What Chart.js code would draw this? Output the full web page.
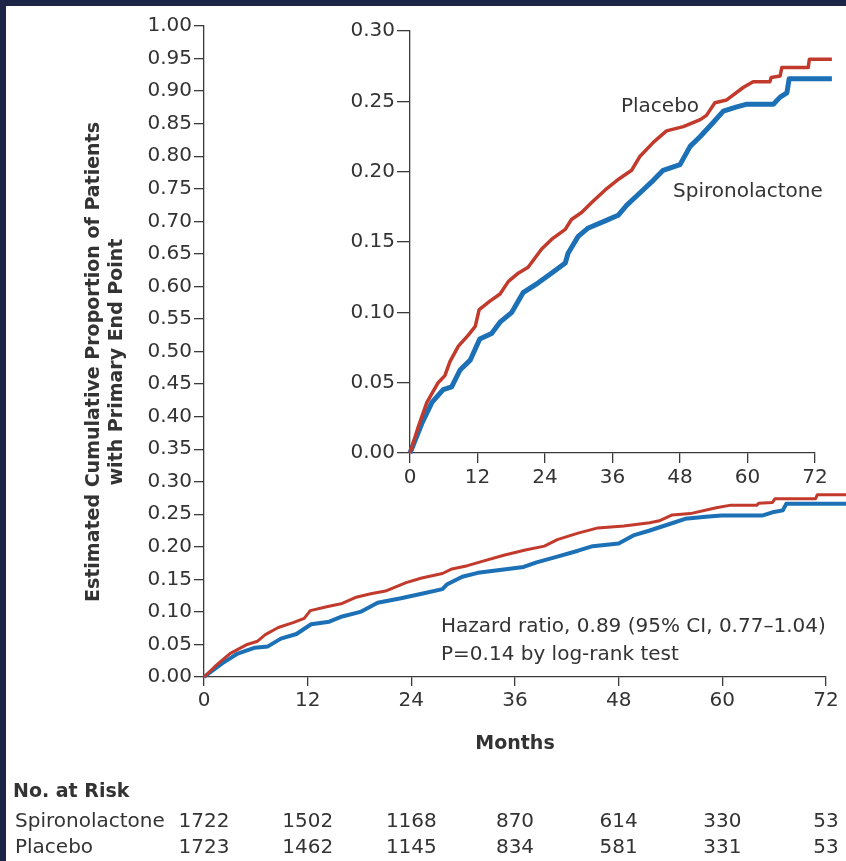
<!DOCTYPE html>
<html>
<head>
<meta charset="utf-8">
<script src="https://cdn.jsdelivr.net/npm/chart.js@4.4.1/dist/chart.umd.min.js"></script>
<style>
  html, body { margin: 0; padding: 0; width: 846px; height: 861px; overflow: hidden; background: #1c2546; }
  #sheet { position: absolute; left: 6px; top: 6px; width: 840px; height: 855px; background: #ffffff; }
  #main { position: absolute; left: 0; top: 0; }
  #inset { position: absolute; left: 330px; top: 0; }
</style>
</head>
<body>
<div id="sheet"></div>
<canvas id="main" width="846" height="861"></canvas>
<canvas id="inset" width="516" height="495"></canvas>
<script>
// Kaplan-Meier cumulative incidence of the primary end point (months from randomization)
const placeboMonths = [0, 1.5, 3.0, 5.0, 6.2, 7.1, 8.6, 10.4, 11.6, 12.3, 14.2, 16.0, 17.5, 19.3, 21.0,
  23.4, 25.2, 27.6, 28.7, 30.5, 32.3, 34.7, 37.2, 39.4, 40.9, 43.3, 45.6, 48.6, 51.6, 52.7,
  54.2, 56.3, 59.3, 61.0, 64.0, 64.2, 65.8, 66.1, 70.8, 71.0, 75.0];
const placeboCum = [0, 0.019, 0.036, 0.050, 0.055, 0.065, 0.076, 0.084, 0.090, 0.102, 0.108, 0.113, 0.122, 0.128, 0.132,
  0.145, 0.152, 0.159, 0.166, 0.171, 0.178, 0.187, 0.195, 0.201, 0.211, 0.221, 0.229, 0.232, 0.237, 0.240,
  0.249, 0.251, 0.260, 0.264, 0.264, 0.267, 0.268, 0.274, 0.274, 0.280, 0.280];

const spiroMonths = [0, 2.1, 3.9, 5.9, 7.4, 8.9, 10.7, 12.4, 14.5, 16.0, 18.1, 20.1, 22.8, 25.2, 27.6,
  28.1, 29.9, 31.7, 34.7, 37.0, 38.5, 40.9, 43.3, 45.0, 48.0, 49.8, 51.6, 53.9, 55.7, 58.1,
  59.9, 64.6, 65.8, 67.0, 67.4, 75.0];
const spiroCum = [0, 0.021, 0.036, 0.045, 0.047, 0.059, 0.066, 0.081, 0.085, 0.093, 0.100, 0.114, 0.121, 0.128, 0.135,
  0.142, 0.154, 0.160, 0.165, 0.169, 0.176, 0.185, 0.194, 0.201, 0.205, 0.218, 0.225, 0.235, 0.243, 0.246,
  0.248, 0.248, 0.253, 0.256, 0.266, 0.266];

// Axis ticks
const monthTicks = [0, 12, 24, 36, 48, 60, 72];
const mainYMax = 1.0;
const insetYMax = 0.30;
const yStep = 0.05;

// Numbers at risk at each month tick
const atRiskSpiro = [1722, 1502, 1168, 870, 614, 330, 53];
const atRiskPlacebo = [1723, 1462, 1145, 834, 581, 331, 53];

const yTitleLines = ['Estimated Cumulative Proportion of Patients', 'with Primary End Point'];
const hazardText = 'Hazard ratio, 0.89 (95% CI, 0.77\u20131.04)';
const pText = 'P=0.14 by log-rank test';

const RED = '#c23a2b';
const BLUE = '#1b70b6';
const INK = '#333333';
const AXIS = '#3a3a3a';
const FONT = '"DejaVu Sans", sans-serif';

const toPoints = (xs, ys) => xs.map((m, i) => ({ x: m, y: ys[i] }));

function datasets(redWidth, blueWidth) {
  return [
    { label: 'Placebo', data: toPoints(placeboMonths, placeboCum), borderColor: RED, borderWidth: redWidth,
      pointRadius: 0, tension: 0, clip: false, borderJoinStyle: 'round', borderCapStyle: 'butt' },
    { label: 'Spironolactone', data: toPoints(spiroMonths, spiroCum), borderColor: BLUE, borderWidth: blueWidth,
      pointRadius: 0, tension: 0, clip: false, borderJoinStyle: 'round', borderCapStyle: 'butt' }
  ];
}

function xScale(tickLen, height, withTitle) {
  return {
    type: 'linear', min: 0, max: 72,
    afterBuildTicks: s => { s.ticks = monthTicks.map(v => ({ value: v })); },
    afterFit: s => { s.height = height; },
    ticks: { color: INK, font: { family: FONT, size: 20 }, padding: 3, maxRotation: 0, autoSkip: false },
    grid: { drawOnChartArea: false, tickLength: tickLen, color: AXIS, lineWidth: 1.3 },
    border: { color: AXIS, width: 1.3 },
    title: withTitle ? { display: true, text: 'Months', color: INK, font: { family: FONT, size: 19, weight: 'bold' },
      padding: { top: 0, bottom: 0 } } : { display: false }
  };
}

function yScale(max, tickLen, width) {
  return {
    type: 'linear', min: 0, max: max,
    ticks: { stepSize: yStep, autoSkip: false, color: INK, font: { family: FONT, size: 20 }, padding: 2,
      callback: v => v.toFixed(2) },
    afterFit: s => { s.width = width; },
    grid: { drawOnChartArea: false, tickLength: tickLen, color: AXIS, lineWidth: 1.3 },
    border: { color: AXIS, width: 1.3 },
    title: { display: false }
  };
}

// Rotated y-axis title, hazard-ratio note and the numbers-at-risk table
const mainNotes = {
  id: 'mainNotes',
  afterDraw(chart) {
    const { ctx } = chart;
    const x = chart.scales.x;
    ctx.save();
    ctx.fillStyle = INK;

    ctx.save();
    ctx.translate(0, 362);
    ctx.rotate(-Math.PI / 2);
    ctx.textAlign = 'center';
    ctx.textBaseline = 'alphabetic';
    ctx.font = 'bold 19px ' + FONT;
    ctx.fillText(yTitleLines[0], 0, 99);
    ctx.fillText(yTitleLines[1], 0, 122);
    ctx.restore();

    ctx.textBaseline = 'alphabetic';
    ctx.textAlign = 'left';
    ctx.font = '20px ' + FONT;
    ctx.fillText(hazardText, 441, 632);
    ctx.fillText(pText, 441, 660);

    ctx.font = 'bold 19px ' + FONT;
    ctx.fillText('No. at Risk', 13, 797);
    ctx.font = '20px ' + FONT;
    ctx.fillText('Spironolactone', 15, 827);
    ctx.fillText('Placebo', 15, 853);
    ctx.textAlign = 'center';
    monthTicks.forEach((m, i) => {
      const px = x.getPixelForValue(m);
      ctx.fillText(String(atRiskSpiro[i]), px, 827);
      ctx.fillText(String(atRiskPlacebo[i]), px, 853);
    });
    ctx.restore();
  }
};

// Curve labels inside the magnified panel
const insetNotes = {
  id: 'insetNotes',
  afterDraw(chart) {
    const { ctx } = chart;
    ctx.save();
    ctx.fillStyle = INK;
    ctx.textBaseline = 'alphabetic';
    ctx.textAlign = 'left';
    ctx.font = '20px ' + FONT;
    ctx.fillText('Placebo', 291, 112);
    ctx.fillText('Spironolactone', 343, 197);
    ctx.restore();
  }
};

new Chart(document.getElementById('main'), {
  type: 'line',
  data: { datasets: datasets(3, 4) },
  options: {
    responsive: false, animation: false, events: [],
    layout: { padding: { left: 0, right: 20, top: 26, bottom: 106 } },
    plugins: { legend: { display: false }, tooltip: { enabled: false } },
    scales: {
      x: xScale(9, 78, true),
      y: yScale(mainYMax, 10, 204)
    }
  },
  plugins: [mainNotes]
});

new Chart(document.getElementById('inset'), {
  type: 'line',
  data: { datasets: datasets(3.5, 5) },
  options: {
    responsive: false, animation: false, events: [],
    layout: { padding: { left: 0, right: 31, top: 31, bottom: 2 } },
    plugins: { legend: { display: false }, tooltip: { enabled: false } },
    scales: {
      x: xScale(10, 40, false),
      y: yScale(insetYMax, 13, 80)
    }
  },
  plugins: [insetNotes]
});
</script>
</body>
</html>
